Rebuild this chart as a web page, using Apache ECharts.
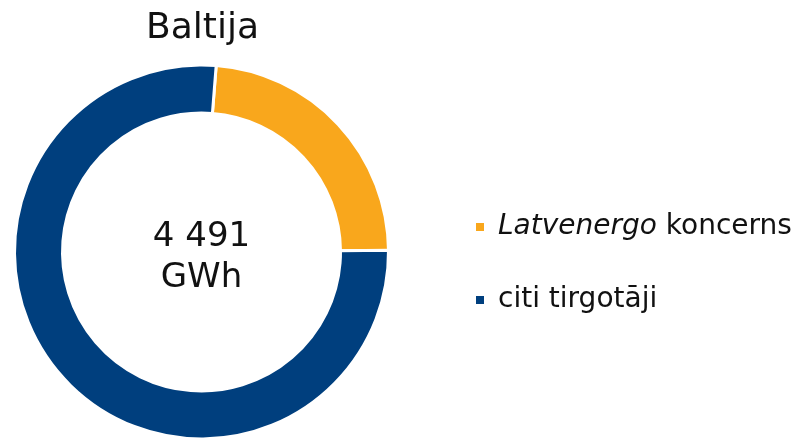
<!DOCTYPE html>
<html>
<head>
<meta charset="utf-8">
<script src="https://cdn.jsdelivr.net/npm/echarts@6/dist/echarts.min.js"></script>
<style>
  html, body { margin: 0; padding: 0; background: #fff; }
  #chart { width: 799px; height: 443px; }
</style>
</head>
<body>
<div id="chart"></div>
<script>
// dati no attēla
var categories = ['Latvenergo koncerns', 'citi tirgotāji'];
var values = [1060, 3431];
var colors = ['#F9A71C', '#003F7E'];
var unit = 'GWh';
var titleText = 'Baltija';

var font = 'DejaVu Sans';

window.onload = function() {
	var total = 0;
	for (var i = 0; i < values.length; i++) total += values[i];
	// tūkstošu atdalītājs ar atstarpi
	var totalTxt = String(total).replace(/\B(?=(\d{3})+(?!\d))/g, ' ');

	var pieData = [];
	for (var i = 0; i < categories.length; i++) {
		pieData.push({ name: categories[i], value: values[i], itemStyle: { color: colors[i] } });
	}

	var myChart = echarts.init(document.getElementById('chart'));
	var option = {
		animation: false,
		title: {
			text: titleText,
			left: 146,
			top: 11,
			padding: 0,
			textStyle: { fontFamily: font, fontSize: 36, fontWeight: 'normal', color: '#111' }
		},
		legend: {
			orient: 'vertical',
			left: 476,
			top: 212,
			padding: 0,
			icon: 'rect',
			itemWidth: 8,
			itemHeight: 8,
			itemGap: 43,
			itemStyle: { borderWidth: 0 },
			selectedMode: false,
			formatter: function(name) {
				if (name === 'Latvenergo koncerns') return '{i|Latvenergo} {n|koncerns}';
				return '{n|' + name + '}';
			},
			textStyle: {
				fontFamily: font,
				fontSize: 28,
				color: '#111',
				lineHeight: 30,
				padding: [0, 0, 0, 9],
				rich: {
					i: { fontFamily: font, fontSize: 28, fontStyle: 'italic', color: '#111', lineHeight: 30 },
					n: { fontFamily: font, fontSize: 28, color: '#111', lineHeight: 30 }
				}
			}
		},
		graphic: [{
			type: 'text',
			x: 201.5,
			y: 258,
			style: {
				text: totalTxt + '\n' + unit,
				align: 'center',
				verticalAlign: 'middle',
				fontFamily: font,
				fontSize: 34,
				lineHeight: 41,
				fill: '#111'
			}
		}],
		series: [{
			type: 'pie',
			center: [201.5, 252],
			radius: [139, 187],
			startAngle: 85.5,
			clockwise: true,
			label: { show: false },
			labelLine: { show: false },
			emphasis: { disabled: true },
			itemStyle: { borderColor: '#fff', borderWidth: 3 },
			data: pieData
		}]
	};
	myChart.setOption(option);
}
</script>
</body>
</html>
